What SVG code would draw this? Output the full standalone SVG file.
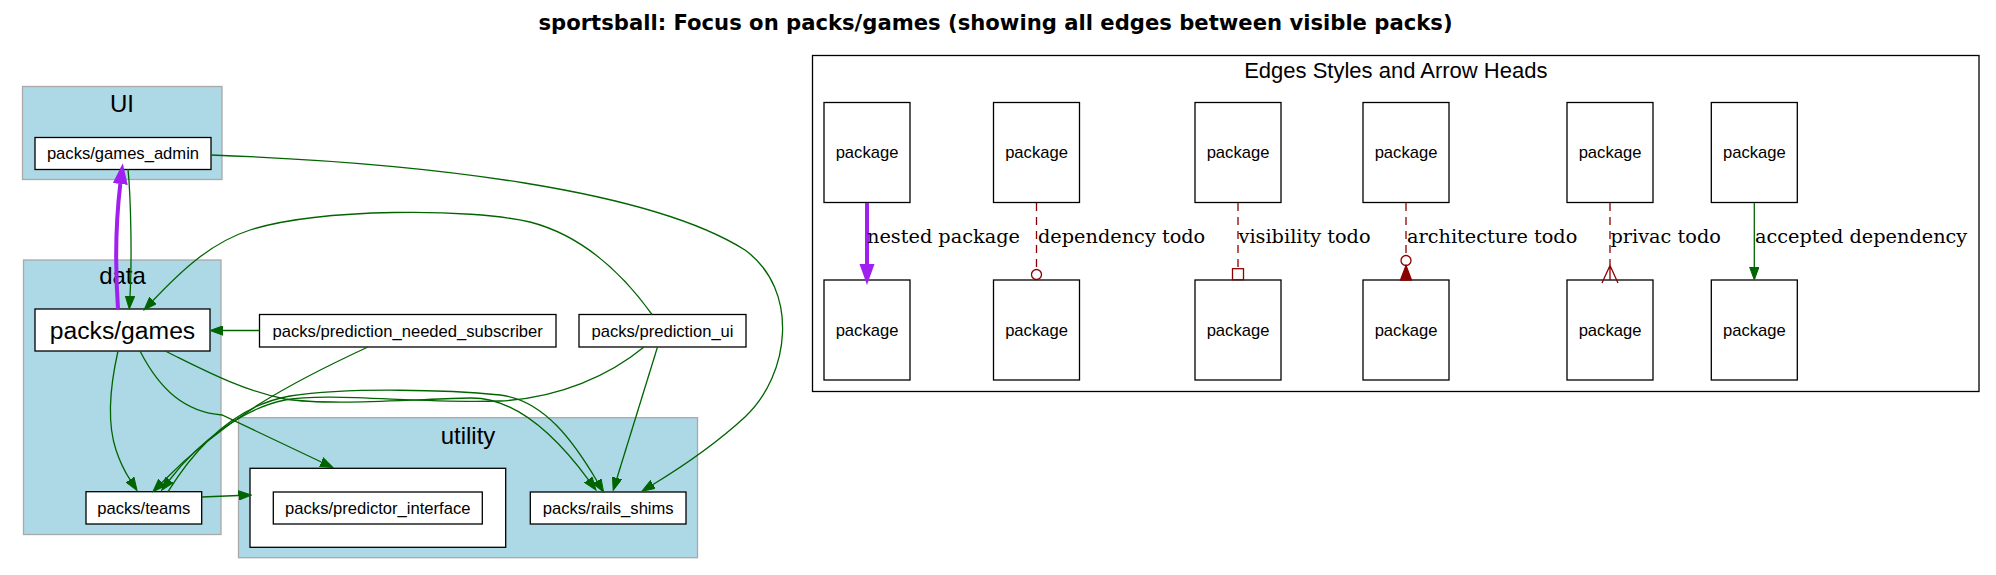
<svg xmlns="http://www.w3.org/2000/svg" width="1996" height="575" viewBox="0 0 1996 575">
<style>
.cl{fill:#add8e6;stroke:#a9a9a9;stroke-width:1.3}
.nd{fill:#ffffff;stroke:#000000;stroke-width:1.3}
.t{font-family:"Liberation Sans",Arial,sans-serif;font-size:16.6px;fill:#000;text-anchor:middle}
.cll{font-family:"Liberation Sans",Arial,sans-serif;font-size:24px;fill:#000;text-anchor:middle}
.e{fill:none;stroke:#006400;stroke-width:1.3}
.ep{fill:none;stroke:#a020f0;stroke-width:4}
.ed{fill:none;stroke:#8b0000;stroke-width:1.3;stroke-dasharray:8,6}
.el{font-family:"DejaVu Serif","Liberation Serif",serif;font-size:19.3px;fill:#000}
</style>
<defs>
<marker id="ag" viewBox="0 -5 14 10" refX="0" refY="0" markerWidth="14" markerHeight="10" markerUnits="userSpaceOnUse" orient="auto">
<path d="M0,-4.7 L13,0 L0,4.7 z" fill="#006400" stroke="#006400" stroke-width="1"/>
</marker>
<marker id="ap" viewBox="0 -8 22 16" refX="0" refY="0" markerWidth="22" markerHeight="16" markerUnits="userSpaceOnUse" orient="auto">
<path d="M0,-7.5 L21,0 L0,7.5 z" fill="#a020f0"/>
</marker>
</defs>
<rect width="1996" height="575" fill="#ffffff"/>
<text x="995.5" y="29.5" style="font-family:'DejaVu Sans',sans-serif;font-weight:bold;font-size:21.15px;text-anchor:middle">sportsball: Focus on packs/games (showing all edges between visible packs)</text>

<g id="cluster_UI">
<rect class="cl" x="22.5" y="86.5" width="199.5" height="93"/>
<text class="cll" x="122" y="112">UI</text>
</g>
<g id="cluster_data">
<rect class="cl" x="23.5" y="260" width="197.5" height="274.5"/>
<text class="cll" x="122.5" y="284">data</text>
</g>
<g id="cluster_utility">
<rect class="cl" x="238.5" y="417.7" width="459" height="140"/>
<text class="cll" x="468" y="444">utility</text>
</g>

<g id="node_games_admin">
<rect class="nd" x="35" y="137.5" width="176" height="32"/>
<text class="t" x="123" y="158.8">packs/games_admin</text>
</g>
<g id="node_games">
<rect class="nd" x="35" y="309" width="175" height="42"/>
<text class="t" x="122.5" y="338.5" style="font-size:24.7px">packs/games</text>
</g>
<g id="node_prediction_needed_subscriber">
<rect class="nd" x="259.5" y="314.5" width="296.5" height="32.5"/>
<text class="t" x="407.7" y="336.5">packs/prediction_needed_subscriber</text>
</g>
<g id="node_prediction_ui">
<rect class="nd" x="579" y="314.5" width="167" height="32.5"/>
<text class="t" x="662.5" y="336.5">packs/prediction_ui</text>
</g>
<g id="node_teams">
<rect class="nd" x="86" y="491.7" width="115.7" height="32.3"/>
<text class="t" x="143.8" y="513.8">packs/teams</text>
</g>
<g id="node_predictor_interface">
<rect class="nd" x="250" y="468.3" width="255.7" height="79"/>
<rect class="nd" x="273.3" y="492" width="209" height="32"/>
<text class="t" x="377.8" y="513.8">packs/predictor_interface</text>
</g>
<g id="node_rails_shims">
<rect class="nd" x="530.3" y="492" width="155.7" height="32"/>
<text class="t" x="608.2" y="513.8">packs/rails_shims</text>
</g>

<g id="edges">
<path class="ep" d="M118,309 C115,265 116,220 120.3,184" marker-end="url(#ap)"/>
<path class="e" d="M128,169 C131,200 132,260 130,296" marker-end="url(#ag)"/>
<path class="e" d="M211,155 C430,163 650,190 745,250 C800,290 790,375 745,417 C720,440 685,465 653,484.5" marker-end="url(#ag)"/>
<path class="e" d="M652,314.5 C620,270 580,235 530,222 C470,208 320,208 250,230 C210,243 180,272 153,300.5" marker-end="url(#ag)"/>
<path class="e" d="M259.5,330.5 L223,330.5" marker-end="url(#ag)"/>
<path class="e" d="M368,347 C290,383 225,418 162,482.5" marker-end="url(#ag)"/>
<path class="e" d="M644,347 C610,375 560,398 500,401 C420,404 330,392 285,400 C245,408 200,440 169.5,480" marker-end="url(#ag)"/>
<path class="e" d="M168,491.7 C200,440 240,405 290,396 C350,387 450,390 500,395 C545,400 575,444 597,481" marker-end="url(#ag)"/>
<path class="e" d="M118,351 C111,382 106,420 116,450 C120,462 125,472 130,479.7" marker-end="url(#ag)"/>
<path class="e" d="M140,351 C160,390 185,412 222,415 L321.3,462" marker-end="url(#ag)"/>
<path class="e" d="M165,351 C200,368 240,390 285,399 C330,406 420,399 470,398 C520,397 562,444 588.3,479.6" marker-end="url(#ag)"/>
<path class="e" d="M201.7,497 L238.5,495.5" marker-end="url(#ag)"/>
<path class="e" d="M657.5,347 L617,478" marker-end="url(#ag)"/>
</g>

<g id="legend">
<rect x="812.5" y="55.5" width="1166.5" height="336" fill="none" stroke="#000" stroke-width="1.3"/>
<text x="1395.8" y="78.3" style="font-family:'Liberation Sans',Arial,sans-serif;font-size:22px;text-anchor:middle">Edges Styles and Arrow Heads</text>
</g>
<g id="legend_nested_a"><rect class="nd" x="824" y="102.5" width="86" height="100"/><text class="t" x="867" y="158.3">package</text></g>
<g id="legend_nested_b"><rect class="nd" x="824" y="280" width="86" height="100"/><text class="t" x="867" y="335.8">package</text></g>
<g id="legend_dep_a"><rect class="nd" x="993.5" y="102.5" width="86" height="100"/><text class="t" x="1036.5" y="158.3">package</text></g>
<g id="legend_dep_b"><rect class="nd" x="993.5" y="280" width="86" height="100"/><text class="t" x="1036.5" y="335.8">package</text></g>
<g id="legend_vis_a"><rect class="nd" x="1195" y="102.5" width="86" height="100"/><text class="t" x="1238" y="158.3">package</text></g>
<g id="legend_vis_b"><rect class="nd" x="1195" y="280" width="86" height="100"/><text class="t" x="1238" y="335.8">package</text></g>
<g id="legend_arch_a"><rect class="nd" x="1363" y="102.5" width="86" height="100"/><text class="t" x="1406" y="158.3">package</text></g>
<g id="legend_arch_b"><rect class="nd" x="1363" y="280" width="86" height="100"/><text class="t" x="1406" y="335.8">package</text></g>
<g id="legend_priv_a"><rect class="nd" x="1567" y="102.5" width="86" height="100"/><text class="t" x="1610" y="158.3">package</text></g>
<g id="legend_priv_b"><rect class="nd" x="1567" y="280" width="86" height="100"/><text class="t" x="1610" y="335.8">package</text></g>
<g id="legend_acc_a"><rect class="nd" x="1711.3" y="102.5" width="86" height="100"/><text class="t" x="1754.3" y="158.3">package</text></g>
<g id="legend_acc_b"><rect class="nd" x="1711.3" y="280" width="86" height="100"/><text class="t" x="1754.3" y="335.8">package</text></g>

<g id="legend_edges">
<path class="ep" d="M867,203 L867,264" marker-end="url(#ap)"/>
<text class="el" x="867" y="243.3">nested package</text>
<path class="ed" d="M1036.5,203 L1036.5,269.5"/>
<circle cx="1036.5" cy="274.5" r="5" fill="#fff" stroke="#8b0000" stroke-width="1.3"/>
<text class="el" x="1038" y="243.3">dependency todo</text>
<path class="ed" d="M1238,203 L1238,268.7"/>
<rect x="1232.5" y="268.7" width="11" height="11" fill="#fff" stroke="#8b0000" stroke-width="1.3"/>
<text class="el" x="1238.5" y="243.3">visibility todo</text>
<path class="ed" d="M1406,203 L1406,255.5"/>
<circle cx="1406" cy="260.5" r="5" fill="#fff" stroke="#8b0000" stroke-width="1.3"/>
<path d="M1406,265.5 L1411.5,280 L1400.5,280 z" fill="#8b0000" stroke="#8b0000" stroke-width="1.3"/>
<text class="el" x="1407" y="243.3">architecture todo</text>
<path class="ed" d="M1610,203 L1610,265.5"/>
<path d="M1602,283 L1610,265.5 L1618,283 M1610,265.5 L1610,280" fill="none" stroke="#8b0000" stroke-width="1.3"/>
<text class="el" x="1610.5" y="243.3">privac todo</text>
<path class="e" d="M1754.3,203 L1754.3,267" marker-end="url(#ag)"/>
<text class="el" x="1755" y="243.3">accepted dependency</text>
</g>
</svg>
